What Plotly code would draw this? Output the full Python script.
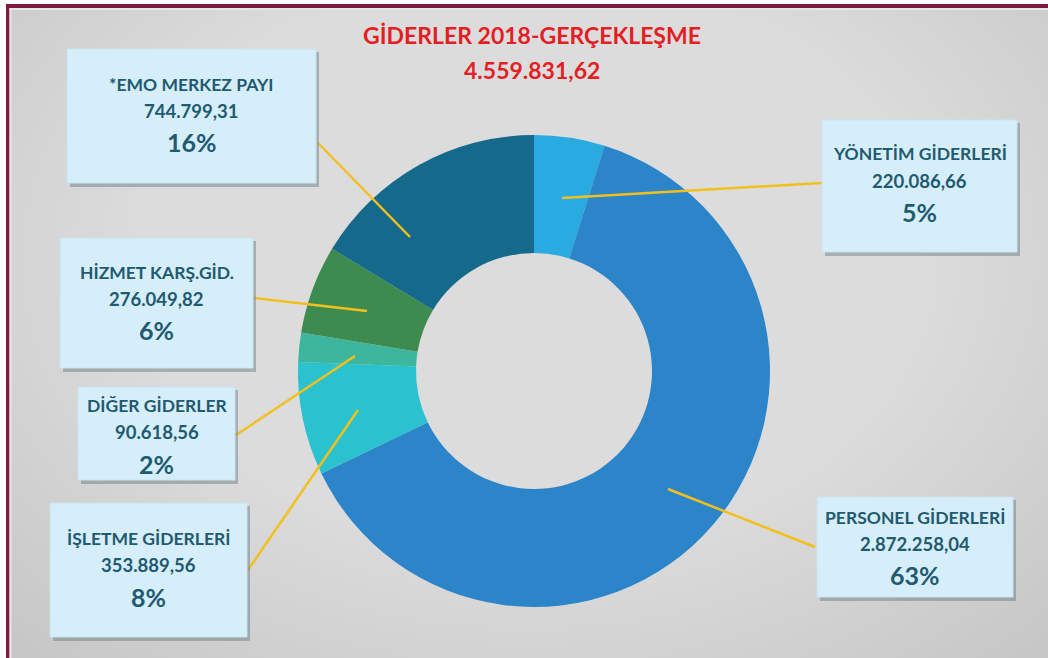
import plotly.graph_objects as go

# Expense categories (clockwise from 12 o'clock) and their realised amounts
categories = ["YÖNETİM GİDERLERİ", "PERSONEL GİDERLERİ", "İŞLETME GİDERLERİ",
              "DİĞER GİDERLER", "HİZMET KARŞ.GİD.", "*EMO MERKEZ PAYI"]
amounts = [220086.66, 2872258.04, 353889.56, 90618.56, 276049.82, 744799.31]
amount_labels = ["220.086,66", "2.872.258,04", "353.889,56",
                 "90.618,56", "276.049,82", "744.799,31"]
percent_labels = ["5%", "63%", "8%", "2%", "6%", "16%"]
slice_colors = ["#29abe2", "#2c84c9", "#29c2ce", "#3cb79e", "#3e8b4f", "#15698a"]

title_lines = ["GİDERLER 2018-GERÇEKLEŞME", "4.559.831,62"]

W, H = 1048, 658
FONT = "Lato"
TEXT_COL = "#1f5a70"

# Callout boxes: (x0, y0, x1, y1) in page pixels, leader line (start -> end),
# and the vertical centres of the three text lines
boxes = {
    "YÖNETİM GİDERLERİ": ((822, 120, 1017, 252), (822, 183, 562, 198), (153, 181, 212)),
    "PERSONEL GİDERLERİ": ((817, 497, 1013, 597), (815, 547, 668, 489), (517, 544, 575)),
    "İŞLETME GİDERLERİ": ((50, 503, 247, 637), (248, 570, 358, 410), (538, 565, 597)),
    "DİĞER GİDERLER": ((78, 387, 235, 480), (236, 435, 355, 356), (405, 432, 464)),
    "HİZMET KARŞ.GİD.": ((60, 238, 253, 368), (254, 298, 367, 311), (272, 299, 330)),
    "*EMO MERKEZ PAYI": ((67, 49, 316, 183), (318, 143, 410, 237), (84, 111, 142)),
}

fig = go.Figure()

# Donut centred at (534, 371) px with outer radius 236 px
cx, cy, R = 534, 371, 236
fig.add_trace(go.Pie(
    labels=categories,
    values=amounts,
    sort=False,
    direction="clockwise",
    rotation=0,
    hole=0.5,
    marker=dict(colors=slice_colors, line=dict(width=0)),
    textinfo="none",
    hoverinfo="label+value+percent",
    showlegend=False,
    domain=dict(x=[(cx - R) / W, (cx + R) / W],
                y=[1 - (cy + R) / H, 1 - (cy - R) / H]),
))

shapes = []

# Page background: grey with a soft light centre
shapes.append(dict(type="rect", xref="x", yref="y", x0=0, y0=0, x1=W, y1=H,
                   fillcolor="#c6c6c6", line=dict(width=0), layer="below"))
n = 45
for i in range(n):
    f = 1 - i / n
    rx, ry = 740 * f, 540 * f
    shapes.append(dict(type="circle", xref="x", yref="y",
                       x0=530 - rx, x1=530 + rx, y0=260 - ry, y1=260 + ry,
                       fillcolor="white", opacity=0.027, line=dict(width=0),
                       layer="below"))
# White margin and maroon frame (top and left)
shapes.append(dict(type="rect", xref="x", yref="y", x0=0, y0=0, x1=W, y1=4,
                   fillcolor="white", line=dict(width=0), layer="below"))
shapes.append(dict(type="rect", xref="x", yref="y", x0=0, y0=0, x1=6, y1=H,
                   fillcolor="white", line=dict(width=0), layer="below"))
shapes.append(dict(type="rect", xref="x", yref="y", x0=6, y0=4, x1=W, y1=8,
                   fillcolor="#7c1a42", line=dict(width=0), layer="below"))
shapes.append(dict(type="rect", xref="x", yref="y", x0=6, y0=4, x1=9.5, y1=H,
                   fillcolor="#7c1a42", line=dict(width=0), layer="below"))
shapes.append(dict(type="rect", xref="x", yref="y", x0=9.5, y0=8, x1=W, y1=10,
                   fillcolor="#e6e6e6", line=dict(width=0), layer="below"))
shapes.append(dict(type="rect", xref="x", yref="y", x0=9.5, y0=8, x1=11.5, y1=H,
                   fillcolor="#e6e6e6", line=dict(width=0), layer="below"))

annotations = []
for name, amt, pct in zip(categories, amount_labels, percent_labels):
    (x0, y0, x1, y1), (lx0, ly0, lx1, ly1), rows = boxes[name]
    # leader line
    shapes.append(dict(type="line", xref="x", yref="y", x0=lx0, y0=ly0, x1=lx1, y1=ly1,
                       line=dict(color="#f2c01e", width=2.5), layer="above"))
    # drop shadow
    shapes.append(dict(type="rect", xref="x", yref="y", x0=x0 + 3, y0=y0 + 3,
                       x1=x1 + 3, y1=y1 + 4, fillcolor="#6f7f86", opacity=0.5,
                       line=dict(width=0), layer="above"))
    # box
    shapes.append(dict(type="rect", xref="x", yref="y", x0=x0, y0=y0, x1=x1, y1=y1,
                       fillcolor="#d5eef9", line=dict(color="#c8e4f0", width=1),
                       layer="above"))
    xc = (x0 + x1) / 2
    for yrow, txt, size in zip(rows, [name, amt, pct], [17.5, 18.5, 25]):
        annotations.append(dict(x=xc, y=yrow, xref="x", yref="y", text=f"<b>{txt}</b>",
                                showarrow=False, xanchor="center", yanchor="middle",
                                font=dict(family=FONT, size=size, color=TEXT_COL)))

for dy, txt in zip([35, 70], title_lines):
    annotations.append(dict(x=532, y=dy, xref="x", yref="y", text=f"<b>{txt}</b>",
                            showarrow=False, xanchor="center", yanchor="middle",
                            font=dict(family=FONT, size=23, color="#e31e24")))

fig.update_layout(
    width=W, height=H,
    margin=dict(l=0, r=0, t=0, b=0),
    paper_bgcolor="#c6c6c6",
    plot_bgcolor="rgba(0,0,0,0)",
    xaxis=dict(range=[0, W], visible=False, fixedrange=True),
    yaxis=dict(range=[H, 0], visible=False, fixedrange=True),
    shapes=shapes,
    annotations=annotations,
)

fig.write_html("out.html")
